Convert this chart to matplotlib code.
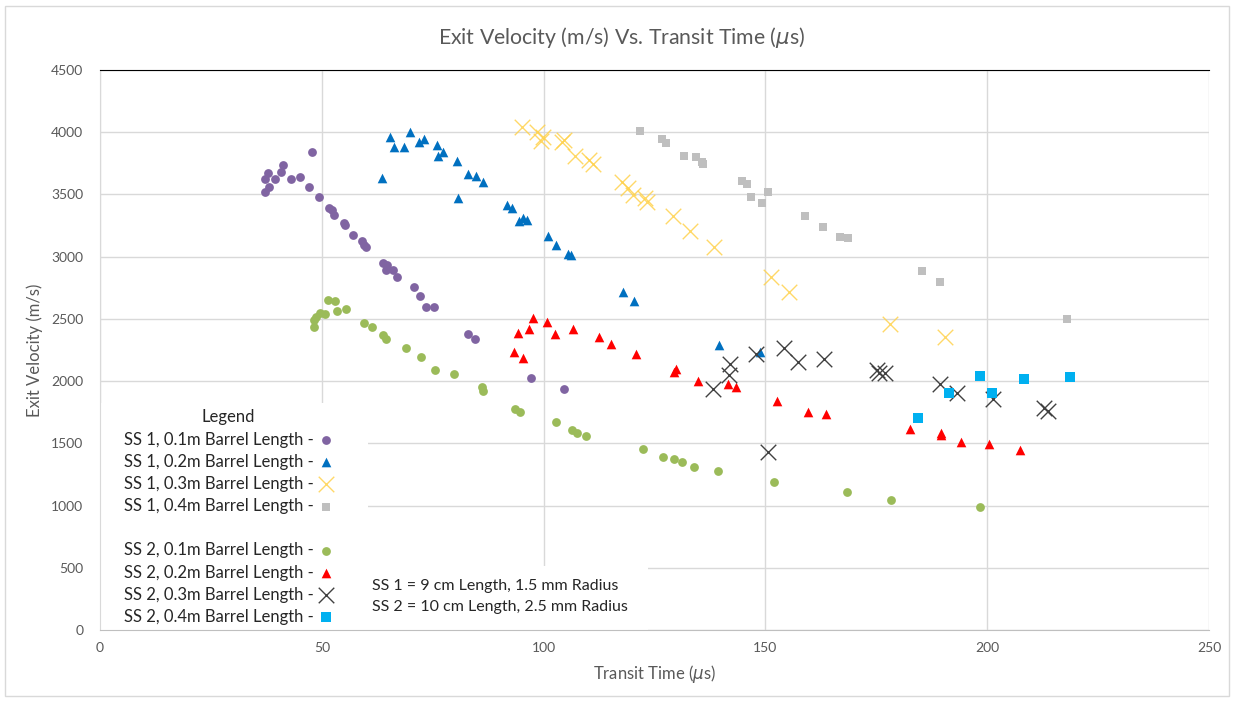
import matplotlib
matplotlib.use("Agg")
import matplotlib.pyplot as plt
from matplotlib.patches import Rectangle
from matplotlib.lines import Line2D

plt.rcParams['font.family'] = ['Lato', 'DejaVu Sans']
plt.rcParams['mathtext.fontset'] = 'dejavusans'

# SS 1, 0.1m (purple circles)
ss1_01_t = [37.2, 37.2, 37.9, 38.1, 39.5, 40.8, 41.3, 43.1, 45.1, 47.1, 47.9, 49.3, 51.7, 52.3,
            52.8, 55.0, 55.2, 57.0, 59.0, 59.5, 59.9, 63.7, 64.6, 64.5, 66.1, 66.9, 70.8, 72.2,
            73.6, 75.2, 83.0, 84.6, 97.2, 104.6]
ss1_01_v = [3522, 3622, 3670, 3563, 3622, 3683, 3737, 3622, 3643, 3563, 3844, 3477, 3389, 3375,
            3335, 3268, 3255, 3174, 3129, 3094, 3080, 2946, 2933, 2893, 2893, 2839, 2759, 2684,
            2598, 2598, 2379, 2336, 2028, 1934]

# SS 1, 0.2m (blue triangles)
ss1_02_t = [63.5, 65.4, 66.3, 68.5, 69.9, 71.8, 73.1, 75.9, 76.3, 77.4, 80.4, 80.6, 82.9, 84.7,
            86.4, 91.7, 92.8, 94.5, 95.4, 96.3, 100.9, 102.8, 105.4, 106.2, 117.9, 120.4, 139.6,
            148.7]
ss1_02_v = [3630, 3964, 3884, 3884, 4005, 3924, 3943, 3898, 3809, 3844, 3772, 3469, 3662, 3652,
            3603, 3416, 3394, 3287, 3308, 3295, 3166, 3094, 3022, 3013, 2719, 2644, 2288, 2234]

# SS 1, 0.3m (yellow crosses)
ss1_03_t = [95.2, 98.4, 99.5, 99.8, 104.1, 104.5, 107.1, 110.3, 111.2, 117.6, 119.1, 120.2,
            122.9, 123.3, 129.1, 132.9, 138.4, 151.2, 155.4, 178.1, 190.5]
ss1_03_v = [4039, 4005, 3930, 3960, 3924, 3940, 3809, 3777, 3745, 3603, 3549, 3496, 3469, 3442,
            3327, 3209, 3080, 2834, 2714, 2458, 2357]

# SS 1, 0.4m (grey squares)
ss1_04_t = [121.8, 126.6, 127.5, 131.7, 134.3, 135.7, 136.0, 144.7, 145.8, 146.7, 149.2, 150.5,
            159.0, 162.9, 166.9, 168.7, 185.3, 189.4, 218.1]
ss1_04_v = [4013, 3943, 3916, 3812, 3804, 3758, 3742, 3611, 3584, 3482, 3429, 3522, 3327, 3238,
            3158, 3148, 2885, 2794, 2499]

# SS 2, 0.1m (green circles)
ss2_01_t = [48.3, 48.3, 48.8, 49.5, 50.7, 51.3, 53.0, 53.4, 55.5, 59.5, 61.3, 63.9, 64.4, 68.9,
            72.4, 75.6, 79.9, 86.1, 86.4, 93.6, 94.7, 102.8, 106.4, 107.5, 109.6, 122.4, 126.9,
            129.5, 131.1, 134.0, 139.3, 152.0, 168.5, 178.4, 198.4]
ss2_01_v = [2437, 2491, 2518, 2545, 2539, 2652, 2641, 2561, 2580, 2470, 2437, 2371, 2336, 2268,
            2195, 2087, 2055, 1950, 1920, 1776, 1749, 1671, 1607, 1586, 1562, 1452, 1388, 1377,
            1347, 1310, 1278, 1187, 1106, 1045, 986]

# SS 2, 0.2m (red triangles)
ss2_02_t = [93.4, 94.3, 95.4, 96.8, 97.5, 100.7, 102.6, 106.7, 112.6, 115.2, 120.9, 129.5, 129.9,
            134.8, 141.6, 143.3, 152.6, 159.5, 163.7, 182.6, 189.5, 189.5, 194.0, 200.3, 207.3]
ss2_02_v = [2237, 2389, 2183, 2416, 2510, 2478, 2376, 2416, 2357, 2296, 2218, 2071, 2095, 2004,
            1974, 1955, 1843, 1749, 1733, 1612, 1586, 1567, 1511, 1497, 1449]

# SS 2, 0.3m (dark grey crosses)
ss2_03_t = [138.3, 141.9, 142.1, 147.9, 150.5, 154.3, 157.4, 163.3, 175.1, 175.7, 177.0, 189.4,
            193.2, 201.4, 212.9, 213.8]
ss2_03_v = [1934, 2049, 2135, 2215, 1428, 2263, 2156, 2175, 2089, 2068, 2063, 1974, 1902, 1856,
            1781, 1762]

# SS 2, 0.4m (cyan squares)
ss2_04_t = [184.4, 191.5, 198.3, 201.1, 208.2, 218.6]
ss2_04_v = [1704, 1907, 2044, 1907, 2015, 2036]

x_ticks = [0, 50, 100, 150, 200, 250]
y_ticks = [0, 500, 1000, 1500, 2000, 2500, 3000, 3500, 4000, 4500]

fig = plt.figure(figsize=(12.34, 7.02), dpi=100)
ax = fig.add_axes([100 / 1234, 72 / 702, 1109 / 1234, 560 / 702])

grey_txt = '#595959'
ax.set_xlim(0, 250)
ax.set_ylim(0, 4500)
ax.set_xticks(x_ticks)
ax.set_yticks(y_ticks)
ax.tick_params(length=0, labelsize=10, colors=grey_txt)
ax.tick_params(axis='y', pad=12)
ax.tick_params(axis='x', pad=9)
ax.grid(True, color='#d9d9d9', linewidth=1)
ax.set_axisbelow(True)
ax.spines['right'].set_visible(False)
ax.spines['left'].set_color('#d9d9d9')
ax.spines['bottom'].set_color('#bfbfbf')
ax.spines['top'].set_color('black')

# white boxes behind legend and note (hide gridlines like the original)
ax.add_patch(Rectangle((0, 0), 0.2417, 0.405, transform=ax.transAxes,
                       facecolor='white', edgecolor='none', zorder=1.5))
ax.add_patch(Rectangle((0.2417, 0), 0.2525, 0.114, transform=ax.transAxes,
                       facecolor='white', edgecolor='none', zorder=1.5))

kw = dict(zorder=3)
h1 = ax.scatter(ss1_01_t, ss1_01_v, marker='o', s=40, color='#8064a2', linewidths=0, **kw)
h2 = ax.scatter(ss1_02_t, ss1_02_v, marker='^', s=48, color='#0070c0', linewidths=0, **kw)
h3 = ax.scatter(ss1_03_t, ss1_03_v, marker='x', s=125, color='#ffd24d', linewidths=1, alpha=0.85, **kw)
h4 = ax.scatter(ss1_04_t, ss1_04_v, marker='s', s=38, color='#bfbfbf', linewidths=0, **kw)
h5 = ax.scatter(ss2_01_t, ss2_01_v, marker='o', s=40, color='#9bbb59', linewidths=0, **kw)
h6 = ax.scatter(ss2_02_t, ss2_02_v, marker='^', s=48, color='#ff0000', linewidths=0, **kw)
h7 = ax.scatter(ss2_03_t, ss2_03_v, marker='x', s=125, color='#404040', linewidths=1, **kw)
h8 = ax.scatter(ss2_04_t, ss2_04_v, marker='s', s=42, color='#00b0f0', linewidths=0, **kw)

blank = Line2D([], [], linestyle='none', marker='')
handles = [h1, h2, h3, h4, blank, h5, h6, h7, h8]
labels = ['SS 1, 0.1m Barrel Length -', 'SS 1, 0.2m Barrel Length -',
          'SS 1, 0.3m Barrel Length -', 'SS 1, 0.4m Barrel Length -', ' ',
          'SS 2, 0.1m Barrel Length -', 'SS 2, 0.2m Barrel Length -',
          'SS 2, 0.3m Barrel Length -', 'SS 2, 0.4m Barrel Length -']
leg = ax.legend(handles, labels, title='Legend', loc='upper left',
                bbox_to_anchor=(0.022, 0.394), frameon=False, markerfirst=False,
                handlelength=0.8, handletextpad=0.3, labelspacing=0.37,
                fontsize=12, title_fontsize=12, borderpad=0, borderaxespad=0)
for t in leg.get_texts():
    t.set_color('#262626')
leg.get_title().set_color('#262626')
leg.set_zorder(4)

ax.text(0.245, 0.06, 'SS 1 = 9 cm Length, 1.5 mm Radius\nSS 2 = 10 cm Length, 2.5 mm Radius',
        transform=ax.transAxes, fontsize=11.5, color='#262626', va='center', ha='left',
        linespacing=1.6, zorder=4)

fig.text(0.504, 0.946, r'Exit Velocity (m/s) Vs. Transit Time ($\mu$s)', fontsize=15.3,
         color=grey_txt, ha='center', va='center')
ax.set_xlabel(r'Transit Time ($\mu$s)', fontsize=12, color=grey_txt, labelpad=6)
ax.set_ylabel('Exit Velocity (m/s)', fontsize=12, color=grey_txt, labelpad=6)

fig.add_artist(Rectangle((0.004, 0.008), 0.992, 0.984, transform=fig.transFigure,
                         facecolor='none', edgecolor='#d9d9d9', linewidth=1))

fig.savefig('out.png', dpi=100)
